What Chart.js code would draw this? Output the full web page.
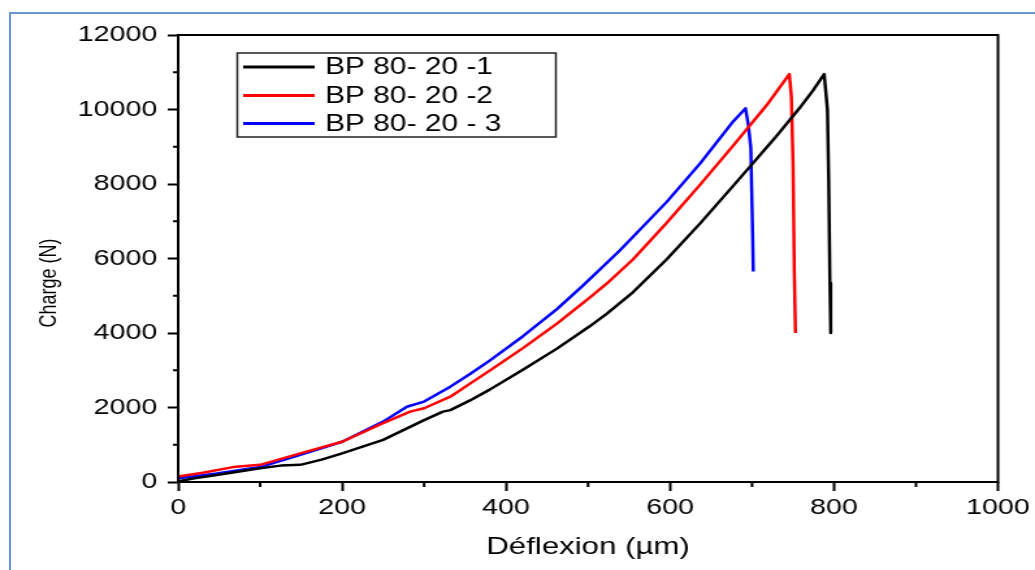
<!DOCTYPE html>
<html>
<head>
<meta charset="utf-8">
<script src="https://cdn.jsdelivr.net/npm/chart.js@4.4.1/dist/chart.umd.min.js"></script>
<style>
  body { margin: 0; background: #fff; }
  #wrap { position: relative; width: 1035px; height: 570px; overflow: hidden; }
  #frame { position: absolute; left: 9px; top: 12px; width: 1100px; height: 600px;
           border-left: 2px solid #6a98d2; border-top: 2px solid #6a98d2; }
  #graph { position: absolute; left: 0; top: 0; }
</style>
</head>
<body>
<div id="wrap">
  <div id="frame"></div>
  <!-- the source picture is stretched sideways, so the canvas is too -->
  <canvas id="graph" width="796" height="570" style="width:1035px;height:570px"></canvas>
</div>
<script>
// Déflexion (µm) / Charge (N)
const labels = ['BP 80- 20 -1', 'BP 80- 20 -2', 'BP 80- 20 - 3'];
const colours = ['#000000', '#ff0000', '#0000ff'];

const blackX = [0, 20, 47, 100, 125, 149, 175, 200, 250, 300, 323, 332, 356, 380, 421, 462, 502, 523, 555, 596, 637, 677, 698, 728, 758, 774, 788, 792, 793.5, 795, 796];
const blackY = [20, 100, 190, 370, 440, 460, 600, 770, 1130, 1660, 1890, 1930, 2190, 2480, 3020, 3580, 4180, 4520, 5100, 5980, 6950, 7950, 8480, 9240, 10040, 10500, 10950, 9990, 8110, 5340, 4000];

const redX = [0, 30, 67, 100, 149, 200, 250, 283, 300, 332, 356, 380, 421, 462, 502, 523, 555, 596, 637, 677, 718, 745.5, 748, 750, 751.5, 753];
const redY = [150, 250, 400, 460, 770, 1080, 1580, 1890, 1980, 2290, 2640, 2990, 3600, 4250, 4950, 5330, 5980, 6960, 7990, 9030, 10120, 10950, 10340, 8560, 5690, 4000];

const blueX = [0, 47, 100, 149, 200, 250, 279, 300, 332, 356, 380, 421, 462, 494, 539, 596, 637, 677, 692, 695.5, 698.5, 700.8, 701.5];
const blueY = [100, 230, 400, 730, 1080, 1620, 2020, 2160, 2560, 2900, 3260, 3920, 4640, 5280, 6220, 7520, 8560, 9680, 10030, 9580, 8970, 6590, 5650];

const xMinor = [100, 300, 500, 700, 900];
const yMinor = [1000, 3000, 5000, 7000, 9000, 11000];

const FONT = "'Liberation Sans', Arial, sans-serif";

function pairs(xs, ys) {
    return xs.map((x, i) => ({ x: x, y: ys[i] }));
}

// minor ticks, box, inner legend and y title
const extras = {
    id: 'extras',
    afterDraw(chart) {
        const ctx = chart.ctx;
        const a = chart.chartArea;
        const xs = chart.scales.x, ys = chart.scales.y;
        ctx.save();
        ctx.strokeStyle = '#000';
        ctx.lineWidth = 2;
        ctx.strokeRect(a.left, a.top, a.right - a.left, a.bottom - a.top);

        ctx.beginPath();
        xMinor.forEach(v => {
            let px = xs.getPixelForValue(v);
            ctx.moveTo(px, a.bottom);
            ctx.lineTo(px, a.bottom + 5);
        });
        yMinor.forEach(v => {
            let py = ys.getPixelForValue(v);
            ctx.moveTo(a.left, py);
            ctx.lineTo(a.left - 4, py);
        });
        ctx.stroke();

        // legend
        ctx.lineWidth = 1.5;
        ctx.strokeStyle = '#222';
        ctx.strokeRect(182.5, 53, 245, 84);
        ctx.font = '23px ' + FONT;
        ctx.textBaseline = 'middle';
        ctx.fillStyle = '#000';
        const rows = [67, 95.5, 123.5];
        chart.data.datasets.forEach((ds, i) => {
            ctx.beginPath();
            ctx.strokeStyle = ds.borderColor;
            ctx.lineWidth = 3;
            ctx.moveTo(187, rows[i]);
            ctx.lineTo(242, rows[i]);
            ctx.stroke();
            ctx.fillText(ds.label, 250, rows[i] + 1);
        });

        // y title
        ctx.translate(38, 283);
        ctx.rotate(-Math.PI / 2);
        ctx.font = '18px ' + FONT;
        ctx.textAlign = 'center';
        ctx.fillText('Charge (N)', 0, 0);
        ctx.restore();
    }
};

const graph = document.getElementById('graph').getContext('2d');

new Chart(graph, {
    type: 'line',
    data: {
        datasets: [
            { label: labels[0], data: pairs(blackX, blackY), borderColor: colours[0] },
            { label: labels[1], data: pairs(redX, redY), borderColor: colours[1] },
            { label: labels[2], data: pairs(blueX, blueY), borderColor: colours[2] }
        ]
    },
    options: {
        responsive: false,
        animation: false,
        events: [],
        layout: { padding: { left: 0, top: 35, right: 28, bottom: 0 } },
        elements: {
            line: { borderWidth: 2.5, tension: 0, borderJoinStyle: 'round', fill: false },
            point: { radius: 0 }
        },
        plugins: {
            legend: { display: false },
            tooltip: { enabled: false }
        },
        scales: {
            x: {
                type: 'linear',
                min: 0,
                max: 1000,
                border: { display: false },
                grid: { drawOnChartArea: false, tickLength: 9, tickColor: '#000', tickWidth: 2 },
                ticks: { stepSize: 200, color: '#000', padding: 4, maxRotation: 0, font: { family: FONT, size: 22 },
                         callback: v => String(v) },
                title: { display: true, text: 'Déflexion (µm)', color: '#000', padding: { top: 0, bottom: 8 }, font: { family: FONT, size: 24 } },
                afterFit(scale) { scale.height = 88; }
            },
            y: {
                min: 0,
                max: 12000,
                border: { display: false },
                grid: { drawOnChartArea: false, tickLength: 8, tickColor: '#000', tickWidth: 2 },
                ticks: { stepSize: 2000, color: '#000', padding: 8, font: { family: FONT, size: 22 },
                         callback: v => String(v) },
                afterFit(scale) { scale.width = 137; }
            }
        }
    },
    plugins: [extras]
});
</script>
</body>
</html>
